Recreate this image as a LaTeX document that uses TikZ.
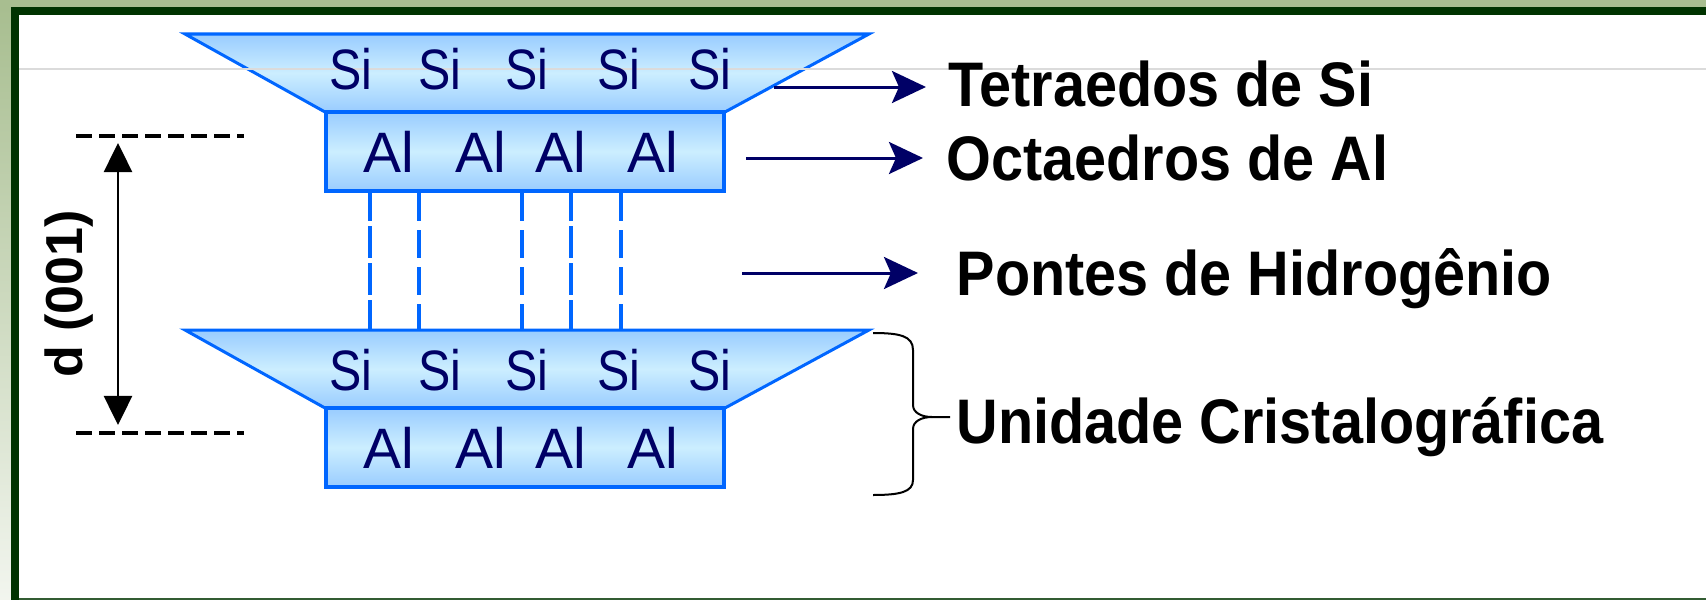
\documentclass[tikz,border=0pt]{standalone}
\usepackage{fontspec}
\setmainfont{Liberation Sans}
\usetikzlibrary{arrows.meta}

\definecolor{navy}{HTML}{000066}
\definecolor{layerblue}{HTML}{0066FF}
\definecolor{layerdark}{HTML}{99CCFF}
\definecolor{layerlight}{HTML}{CCEEFF}
\definecolor{framegreen}{HTML}{003300}
\definecolor{paneolive}{HTML}{A8BE90}

\begin{document}
\begin{tikzpicture}[
    x=0.01cm, y=-0.01cm,
    tetra/.style={draw=layerblue, line width=0.03cm, line join=miter,
                  top color=layerdark, bottom color=layerdark,
                  middle color=layerlight},
    octa/.style={draw=layerblue, line width=0.04cm, inner sep=0pt,
                 minimum width=3.98cm, minimum height=0.79cm,
                 top color=layerdark, bottom color=layerdark,
                 middle color=layerlight},
    atom/.style={font=\fontsize{16.2}{18}\selectfont, text=navy,
                 inner sep=0pt, anchor=base},
    lbl/.style={font=\fontsize{17.9}{20}\selectfont\bfseries,
                inner sep=0pt, xscale=0.915, anchor=base west},
    hbond/.style={draw=layerblue, line width=0.035cm},
    pointer/.style={draw=navy, line width=0.03cm,
                    -{Stealth[length=0.34cm, width=0.32cm, inset=0.07cm]}},
    dline/.style={draw=black, line width=0.035cm,
                  dash pattern=on 0.16cm off 0.07cm},
    dim/.style={draw=black, line width=0.025cm,
                {Triangle[length=0.29cm, width=0.28cm]}-{Triangle[length=0.29cm, width=0.28cm]}},
    unitbrace/.style={draw=black, line width=0.02cm},
    guide/.style={draw=black!14, line width=0.015cm}
]
  \useasboundingbox (0,0) rectangle (1706,600);

  % window frame
  \fill[paneolive] (0,0) rectangle (1706,7);
  \shade[top color=paneolive, bottom color=paneolive!15] (0,7) rectangle (11,600);
  \fill[framegreen] (11,7) rectangle (1706,15);
  \fill[framegreen] (11,7) rectangle (19,600);
  \fill[white] (19,15) rectangle (1706,598);
  \fill[framegreen!80] (19,598) rectangle (1706,600);

  % first layer: tetrahedral sheet over octahedral sheet
  \coordinate (tet1-top) at (185,34);
  \draw[tetra] (tet1-top) -- (869,34) -- (725,112) -- (325,112) -- cycle;
  \node[octa] (oct1) at (525,151.5) {};

  % second layer
  \coordinate (tet2-top) at (185,330);
  \draw[tetra] (tet2-top) -- (869,330) -- (725,408) -- (325,408) -- cycle;
  \node[octa] (oct2) at (525,447.5) {};

  % hydrogen bonds between the layers
  \foreach \x/\on/\off/\ph in {370/0.32/0.05/0.04, 419/0.28/0.09/0,
                              522/0.28/0.09/0, 571/0.32/0.05/0.04,
                              621/0.28/0.09/0}
    \draw[hbond, dash pattern=on \on cm off \off cm, dash phase=\ph cm]
      (\x,0 |- oct1.south) -- (\x,0 |- tet2-top);

  \draw[guide] (19,69) -- (1706,69);

  \foreach \x [count=\i] in {351,440,527,619,710} {
    \node[atom, xscale=0.85] (si1-\i) at (\x,90) {Si};
    \node[atom, xscale=0.85] (si2-\i) at (\x,390) {Si};
  }
  \foreach \x [count=\i] in {389,481,561,653} {
    \node[atom] (al1-\i) at (\x,172) {Al};
    \node[atom] (al2-\i) at (\x,468) {Al};
  }

  % basal spacing
  \coordinate (dtop-l) at (76,136);
  \coordinate (dtop-r) at (244,136);
  \coordinate (dbot-l) at (76,433);
  \coordinate (dbot-r) at (244,433);
  \draw[dline] (dtop-l) -- (dtop-r);
  \draw[dline] (dbot-l) -- (dbot-r);
  \coordinate (dtop) at (118,136);
  \coordinate (dbot) at (118,433);
  \draw[dim, shorten <=0.07cm, shorten >=0.08cm] (dtop) -- (dbot);
  \node[font=\fontsize{14.8}{16}\selectfont\bfseries, inner sep=0pt,
        rotate=90] (dspace) at (69,294) {d (001)};

  % labels on the right
  \node[lbl] (tetra)  at (948,106) {Tetraedos de Si};
  \node[lbl] (octa)   at (946,180) {Octaedros de Al};
  \node[lbl] (pontes) at (956,295) {Pontes de Hidrogênio};
  \node[lbl] (ucell)  at (956,443) {Unidade Cristalográfica};

  \coordinate (tetra-src)  at (774,87);
  \coordinate (octa-src)   at (746,158);
  \coordinate (pontes-src) at (742,273);
  \draw[pointer, shorten >=0.22cm] (tetra-src) -- (tetra.west |- tetra-src);
  \draw[pointer, shorten >=0.23cm] (octa-src) -- (octa.west |- octa-src);
  \draw[pointer, shorten >=0.38cm] (pontes-src) -- (pontes.west |- pontes-src);

  % brace around the second layer
  \coordinate (btip) at (950,417);
  \draw[unitbrace] (873,333) .. controls (900,333) and (913,336) .. (913,350)
    -- (913,405) .. controls (913,413) and (922,417) .. (932,417) -- (btip);
  \draw[unitbrace] (932,417) .. controls (922,417) and (913,421) .. (913,429)
    -- (913,480) .. controls (913,492) and (900,495) .. (873,495);
\end{tikzpicture}
\end{document}
